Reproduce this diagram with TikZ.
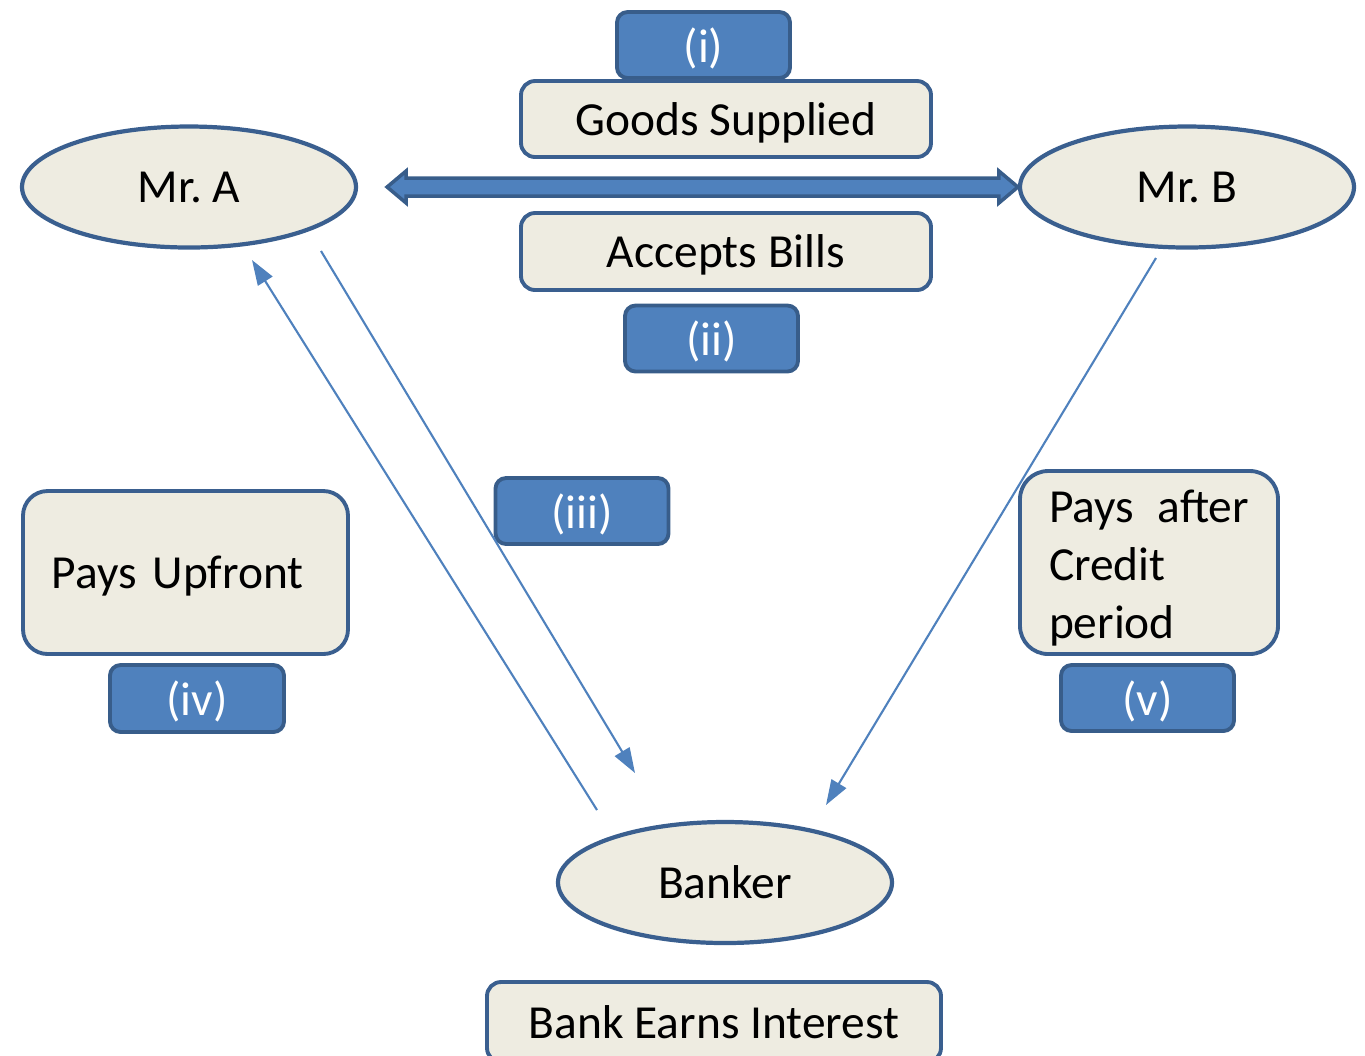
\documentclass[tikz,border=0pt]{standalone}
\usepackage{fontspec}
\setmainfont{Carlito}
\usepackage{tikz}
\usetikzlibrary{positioning,calc,shapes.geometric,arrows.meta}
\frenchspacing

\definecolor{boxfill}{HTML}{EEECE1}
\definecolor{boxline}{HTML}{3A5F8F}
\definecolor{tagfill}{HTML}{4F81BD}
\definecolor{tagline}{HTML}{385D8A}

\begin{document}
\begin{tikzpicture}

% ---- Styles ----
\tikzset{
  party/.style={ellipse, draw=boxline, fill=boxfill, line width=1.2pt,
                minimum width=3.34cm, minimum height=1.21cm,
                font=\fontsize{13.5}{16.5}\selectfont},
  textbox/.style={rectangle, rounded corners=4pt, draw=boxline, fill=boxfill,
                  line width=1.1pt, inner sep=2pt, text depth=0pt,
                  font=\fontsize{13.5}{16.5}\selectfont},
  tag/.style={rectangle, rounded corners=3pt, draw=tagline, fill=tagfill,
              line width=1.1pt, text=white, minimum width=1.73cm,
              minimum height=0.66cm, inner sep=1pt, text depth=0pt,
              font=\fontsize{13.5}{16.5}\selectfont},
  flow/.style={draw=tagfill, line width=0.6pt,
               -{Triangle[length=2.5mm,width=1.7mm]}},
  fatarrow/.style={draw=tagline, fill=tagfill, line width=1pt, line join=miter},
}

\useasboundingbox (0,0) rectangle (13.65,-10.55);

% --- Parties ---
\node[party] (mra) at (1.89,-1.87) {Mr. A};
\node[party] (mrb) at (11.87,-1.87) {Mr. B};
\node[party] (banker) at (7.25,-8.825) {Banker};

% --- Goods / bills between A and B ---
\node[tag] (i) at (7.035,-0.45) {(i)};
\node[textbox, minimum width=4.10cm, minimum height=0.76cm] (goods) at (7.26,-1.19) {Goods Supplied};
\node[textbox, minimum width=4.10cm, minimum height=0.77cm] (bills) at (7.26,-2.515) {Accepts Bills};
\node[tag] (ii) at (7.115,-3.385) {(ii)};

% --- Double arrow A <-> B ---
\coordinate (ltip) at ($(mra.east)+(0.29,0)$);
\coordinate (rtip) at (mrb.west);
\filldraw[fatarrow] (ltip) -- ++(0.19,0.16) -- ++(0,-0.07) -- ($(rtip)+(-0.19,0.09)$)
  -- ++(0,0.07) -- (rtip) -- ++(-0.19,-0.16) -- ++(0,0.07)
  -- ($(ltip)+(0.19,-0.09)$) -- ++(0,-0.07) -- cycle;

% --- Side notes ---
\node[tag] (iii) at (5.82,-5.11) {(iii)};
\node[textbox, rounded corners=7pt, minimum width=3.25cm, minimum height=1.63cm,
      text width=2.67cm, align=left] (upfront) at (1.855,-5.725) {Pays Upfront};
\node[tag, minimum width=1.74cm, minimum height=0.67cm] (iv) at (1.97,-6.985) {(iv)};
\node[textbox, rounded corners=8pt, minimum width=2.58cm, minimum height=1.83cm,
      text width=2.0cm, align=left, text depth=32pt] (credit) at (11.49,-5.625) {Pays\hfill after\\Credit\\period};
\node[tag] (v) at (11.475,-6.98) {(v)};

\node[textbox, minimum width=4.54cm, minimum height=0.80cm] (interest) at (7.14,-10.22) {Bank Earns Interest};

% --- Flows through the banker ---
\coordinate (upfrom) at (5.97,-8.10);
\coordinate (upto) at (2.52,-2.60);
\coordinate (downfrom) at (3.21,-2.51);
\coordinate (downto) at (6.35,-7.73);
\coordinate (bfrom) at (11.56,-2.58);
\coordinate (bto) at (8.26,-8.05);
\draw[flow] (upfrom) -- (upto);
\draw[flow] (downfrom) -- (downto);
\draw[flow] (bfrom) -- (bto);

\end{tikzpicture}
\end{document}
